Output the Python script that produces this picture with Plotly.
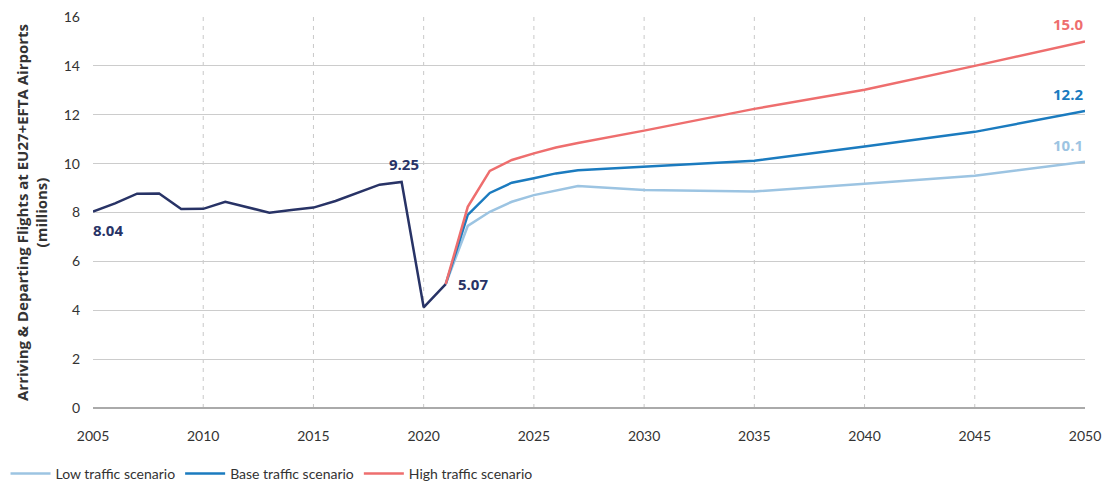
import plotly.graph_objects as go

hist_years = list(range(2005, 2022))
hist_vals = [8.04, 8.37, 8.77, 8.78, 8.14, 8.15, 8.44, 8.2, 7.99, 8.1, 8.2, 8.47, 8.8, 9.14, 9.25, 4.12, 5.07]

fc_years = [2021, 2022, 2023, 2024, 2025, 2026, 2027, 2030, 2035, 2040, 2045, 2050]
low_vals = [5.07, 7.45, 8.03, 8.44, 8.71, 8.9, 9.08, 8.92, 8.86, 9.18, 9.5, 10.08]
base_vals = [5.07, 7.9, 8.8, 9.22, 9.4, 9.6, 9.73, 9.88, 10.12, 10.7, 11.3, 12.15]
high_vals = [5.07, 8.23, 9.7, 10.15, 10.42, 10.66, 10.84, 11.35, 12.24, 13.02, 14.0, 15.0]

x_ticks = list(range(2005, 2051, 5))
y_ticks = list(range(0, 17, 2))

NAVY = "#283366"
LOW = "#9cc4e2"
BASE = "#1b7bbf"
HIGH = "#ee6e6e"
FONT = "Open Sans"
TICKFONT = "Lato"

fig = go.Figure()
fig.add_trace(go.Scatter(x=hist_years, y=hist_vals, mode="lines", line=dict(color=NAVY, width=2.5),
                         showlegend=False, name="Historical"))
fig.add_trace(go.Scatter(x=fc_years, y=low_vals, mode="lines", line=dict(color=LOW, width=2.5),
                         name="Low traffic scenario"))
fig.add_trace(go.Scatter(x=fc_years, y=base_vals, mode="lines", line=dict(color=BASE, width=2.5),
                         name="Base traffic scenario"))
fig.add_trace(go.Scatter(x=fc_years, y=high_vals, mode="lines", line=dict(color=HIGH, width=2.5),
                         name="High traffic scenario"))

# vertical dashed gridlines
for yr in x_ticks[1:-1]:
    fig.add_shape(type="line", xref="x", yref="y", x0=yr, x1=yr, y0=0, y1=16,
                  line=dict(color="#c8c8c8", width=1, dash="4px,5px"), layer="below")

ann_font = dict(family=FONT, size=15, color=NAVY)
fig.add_annotation(x=hist_years[0], y=hist_vals[0], text="<b>8.04</b>", showarrow=False,
                   xanchor="left", yanchor="top", yshift=-6, xshift=-2, font=ann_font)
fig.add_annotation(x=2019, y=hist_vals[14], text="<b>9.25</b>", showarrow=False,
                   xanchor="center", yanchor="bottom", yshift=6, xshift=2, font=ann_font)
fig.add_annotation(x=2021, y=hist_vals[-1], text="<b>5.07</b>", showarrow=False,
                   xanchor="left", yanchor="middle", xshift=10, yshift=0, font=ann_font)
fig.add_annotation(x=2050, y=high_vals[-1], text="<b>15.0</b>", showarrow=False,
                   xanchor="right", yanchor="bottom", yshift=5, font=dict(family=FONT, size=15, color=HIGH))
fig.add_annotation(x=2050, y=base_vals[-1], text="<b>12.2</b>", showarrow=False,
                   xanchor="right", yanchor="bottom", yshift=5, font=dict(family=FONT, size=15, color=BASE))
fig.add_annotation(x=2050, y=low_vals[-1], text="<b>10.1</b>", showarrow=False,
                   xanchor="right", yanchor="bottom", yshift=5, font=dict(family=FONT, size=15, color=LOW))

fig.update_layout(
    width=1107, height=486,
    margin=dict(l=93, r=22, t=17, b=78),
    paper_bgcolor="white", plot_bgcolor="white",
    font=dict(family=FONT, size=12, color="#333333"),
    xaxis=dict(range=[2005, 2050], tickvals=x_ticks, showgrid=False, zeroline=False,
               showline=False, ticks="", ticklabelstandoff=18, automargin=False,
               tickfont=dict(family=TICKFONT, size=14, color="#333333")),
    yaxis=dict(range=[0, 16], tickvals=y_ticks, showgrid=True, gridcolor="#cccccc", gridwidth=1,
               zeroline=True, zerolinecolor="#aaaaaa", zerolinewidth=1.5, ticks="",
               ticklabelstandoff=12, automargin=False,
               tickfont=dict(family=TICKFONT, size=14, color="#333333"),
               title=dict(text="<b>Arriving & Departing Flights at EU27+EFTA Airports<br>(millions)</b>",
                          font=dict(family=FONT, size=15, color="#333333"), standoff=12)),
    legend=dict(orientation="h", x=0.005, y=0.025, xref="container", yref="container",
                xanchor="left", yanchor="middle",
                font=dict(family=TICKFONT, size=14, color="#333333"),
                itemwidth=40, tracegroupgap=0),
)

fig.write_html("out.html")
